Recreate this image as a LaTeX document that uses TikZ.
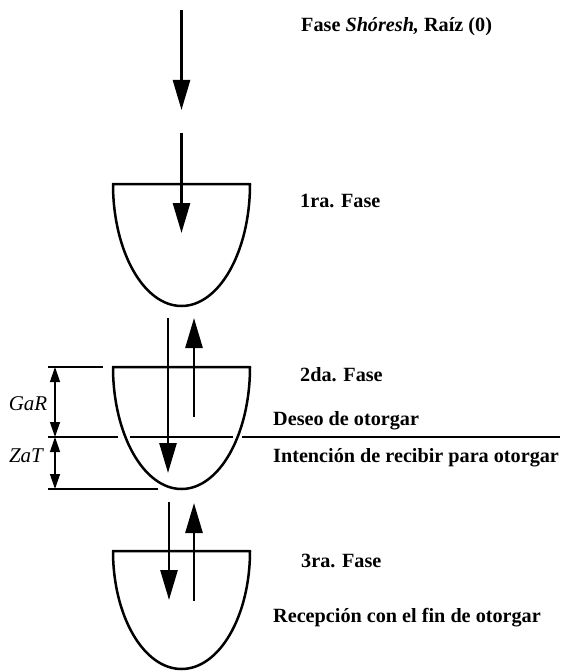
\documentclass[tikz,border=0pt]{standalone}
\usepackage{fontspec}
\setmainfont{Liberation Serif}
\usetikzlibrary{arrows.meta}
\begin{document}
\begin{tikzpicture}[x=1pt,y=-1pt,
  bowl/.style={line width=2.5pt,line join=round},
  flow/.style={line width=2.7pt,-{Triangle[width=17pt,length=30pt]}},
  dimarrow/.style={line width=1.3pt,{Triangle[width=10pt,length=15pt]}-{Triangle[width=10pt,length=15pt]}},
  dimline/.style={line width=1.3pt},
  sepline/.style={line width=1.7pt},
  lbl/.style={anchor=base west,inner sep=0pt,font=\fontsize{20.2}{24}\selectfont\bfseries},
  dimlbl/.style={anchor=base,inner sep=0pt,font=\fontsize{21}{24}\selectfont\itshape}]
\useasboundingbox (0,0) rectangle (560,671);

% bowls
\draw[bowl] (113,184) -- (250,184) arc[start angle=0,end angle=180,x radius=68.5,y radius=122] -- cycle;
\draw[bowl] (113,367) -- (250,367) arc[start angle=0,end angle=180,x radius=68.5,y radius=122] -- cycle;
\draw[bowl] (113,551) -- (250,551) arc[start angle=0,end angle=180,x radius=68.5,y radius=118] -- cycle;

% flow coordinates
\coordinate (a0s) at (181.5,10);  \coordinate (a0e) at (181.5,110);
\coordinate (a1s) at (181.5,133); \coordinate (a1e) at (181.5,233);
\coordinate (d2s) at (168,318);   \coordinate (d2e) at (168,473);
\coordinate (u2s) at (194,417);   \coordinate (u2e) at (194,318);
\coordinate (d3s) at (169,502);   \coordinate (d3e) at (169,600);
\coordinate (u3s) at (194,601);   \coordinate (u3e) at (194,503);

\draw[flow] (a0s) -- (a0e);
\draw[flow] (a1s) -- (a1e);
\draw[flow] (d2s) -- (d2e);
\draw[flow] (u2s) -- (u2e);
\draw[flow] (d3s) -- (d3e);
\draw[flow] (u3s) -- (u3e);

% separation line in bowl 2
\coordinate (sl1) at (48,437);  \coordinate (sl2) at (118,437);
\coordinate (si1) at (130,437); \coordinate (si2) at (233,437);
\coordinate (sr1) at (242,437); \coordinate (sr2) at (560,437);
\draw[sepline] (sl1) -- (sl2);
\draw[line width=2.3pt] (si1) -- (si2);
\draw[sepline] (sr1) -- (sr2);

% dimension lines
\coordinate (t1) at (48,367);  \coordinate (t2) at (103,367);
\coordinate (b1) at (48,489);  \coordinate (b2) at (158,489);
\draw[dimline] (t1) -- (t2);
\draw[dimline] (b1) -- (b2);
\coordinate (g1) at (55,367); \coordinate (g2) at (55,437); \coordinate (g3) at (55,489);
\draw[dimarrow] (g1) -- (g2);
\draw[dimarrow] (g2) -- (g3);
\node[dimlbl] (gar) at (28,410) {GaR};
\node[dimlbl] (zat) at (26,462) {ZaT};

% labels
\node[lbl] (f0) at (301,32) {Fase \textit{Shóresh,} Raíz (0)};
\node[lbl] (f1) at (300,207) {1ra. Fase};
\node[lbl] (f2) at (300,381) {2da. Fase};
\node[lbl] (dese) at (273,425) {Deseo de otorgar};
\node[lbl] (inte) at (273,462) {Intención de recibir para otorgar};
\node[lbl] (f3) at (301,567) {3ra. Fase};
\node[lbl] (rece) at (273,622) {Recepción con el fin de otorgar};
\end{tikzpicture}
\end{document}
